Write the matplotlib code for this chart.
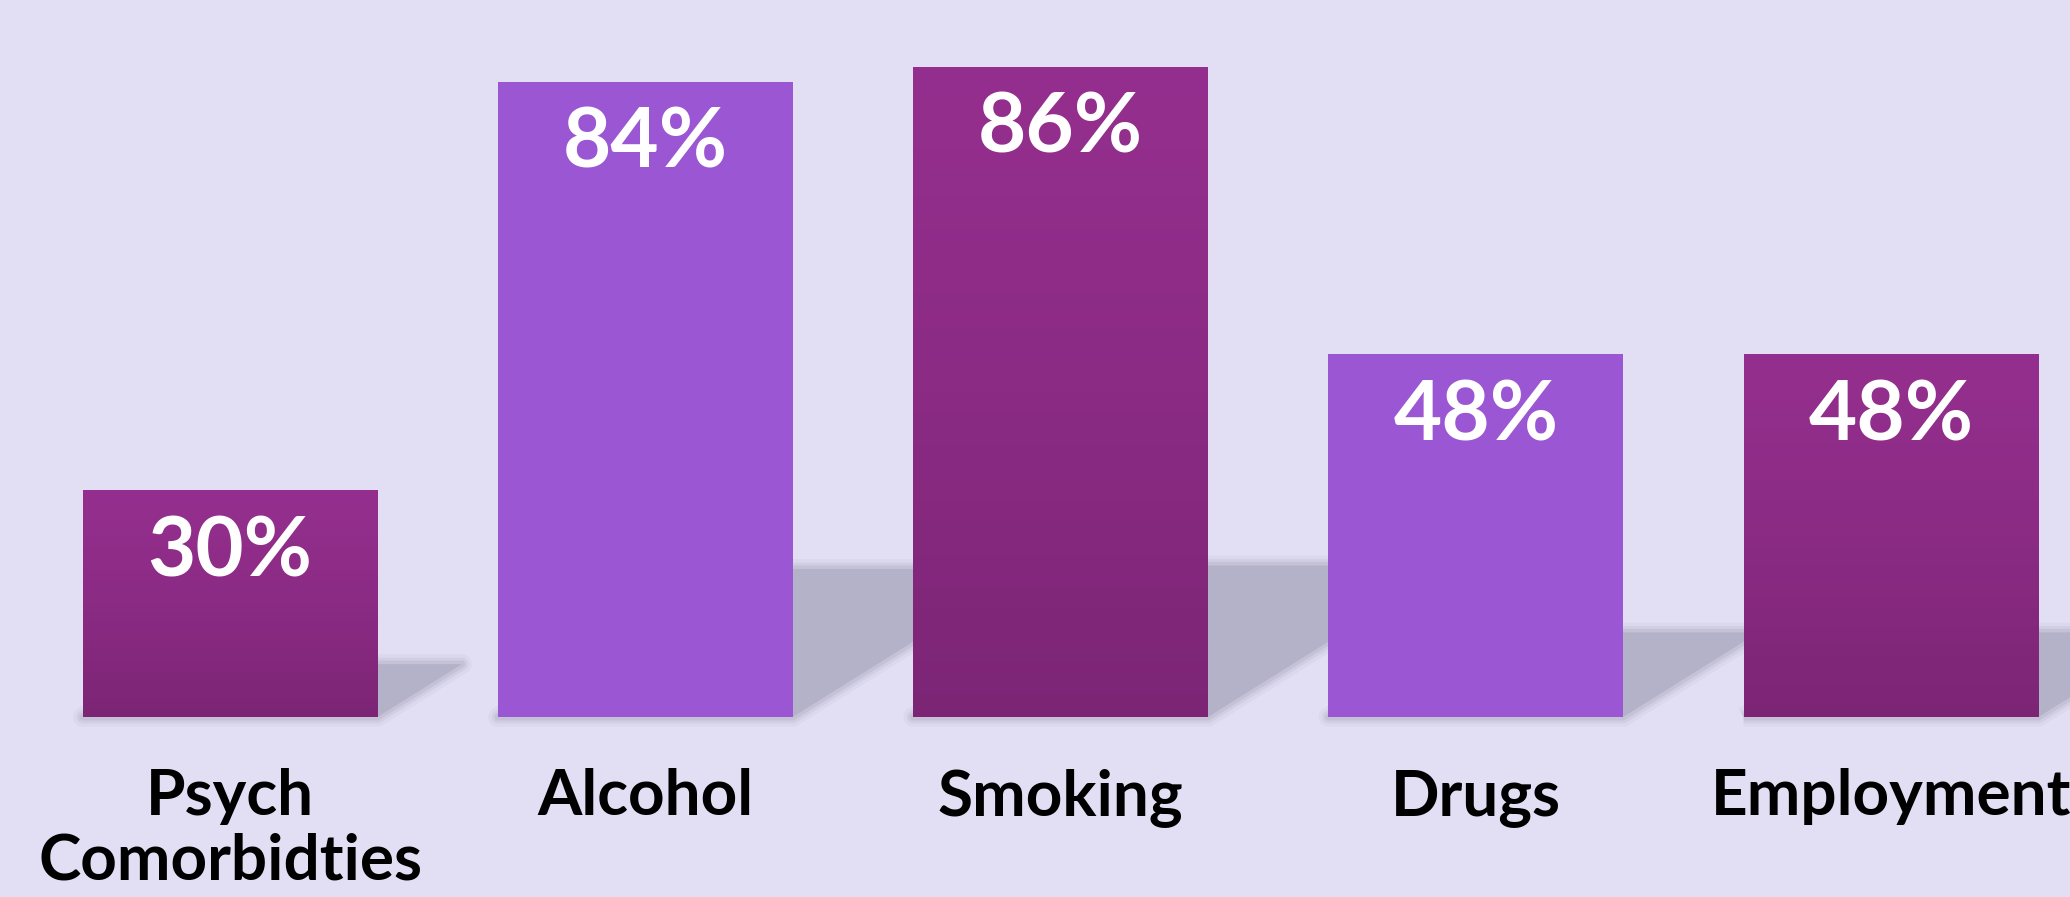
import matplotlib.pyplot as plt
import numpy as np
from matplotlib.patches import Polygon
from matplotlib.colors import LinearSegmentedColormap

categories = ["Psych\nComorbidties", "Alcohol", "Smoking", "Drugs", "Employment"]
values = [30, 84, 86, 48, 48]
labels = ["30%", "84%", "86%", "48%", "48%"]

bg = "#e2dff5"
violet = "#9b57d3"
mag_top = "#952f8f"
mag_bot = "#7c2575"
shadow = "#b4b2c8"
bar_colors = [mag_top, violet, mag_top, violet, mag_top]

fig = plt.figure(figsize=(20.7, 8.97), dpi=100, facecolor=bg)
ax = fig.add_axes([0, 0, 1, 1])
ax.set_facecolor(bg)
ax.axis("off")

x = np.arange(len(values))
width = 0.71
px_per_y = 897 / (94.8 + 23.8)
px_per_x = 2070 / (4.431 + 0.554)

# shadows behind bars (skewed to the right, short)
for xi, v in zip(x, values):
    sh = v * 0.233
    dx = 1.6 * sh * px_per_y / px_per_x
    pts = [(xi - width / 2, 0), (xi + width / 2, 0),
           (xi + width / 2 + dx, sh), (xi - width / 2 + dx, sh)]
    for lw, a in [(14, 0.15), (9, 0.25), (5, 0.4)]:
        ax.add_patch(Polygon(pts, closed=True, facecolor="none", edgecolor=shadow,
                             lw=lw, alpha=a, joinstyle="round", zorder=1))
    ax.add_patch(Polygon(pts, closed=True, facecolor=shadow, edgecolor="none", zorder=1.5))

bars = ax.bar(x, values, width=width, color=bar_colors, zorder=2, linewidth=0)

# gradient on the magenta bars
grad = np.linspace(0, 1, 256).reshape(-1, 1)
cmap = LinearSegmentedColormap.from_list("mag", [mag_bot, "#8b2b84", mag_top])
for i, b in enumerate(bars):
    if bar_colors[i] != mag_top:
        continue
    x0 = b.get_x()
    im = ax.imshow(grad, extent=(x0, x0 + b.get_width(), 0, b.get_height()),
                   origin="lower", aspect="auto", cmap=cmap, zorder=2.5)
    im.set_clip_path(b)
ax.set_xlim(-0.554, 4.431)
ax.set_ylim(-23.8, 94.8)

for xi, v, lab in zip(x, values, labels):
    ax.text(xi, v - 11.4, lab, ha="center", va="baseline", color="white",
            fontsize=60, fontweight="bold", family="Lato", zorder=4)

line_gap = 65 / px_per_y
for xi, cat in zip(x, categories):
    for k, line in enumerate(cat.split("\n")):
        ax.text(xi, -12.95 - k * line_gap, line, ha="center", va="baseline",
                color="black", fontsize=46, fontweight="bold", family="Lato",
                zorder=4, clip_on=False)

fig.savefig("out.png", dpi=100, facecolor=bg)
